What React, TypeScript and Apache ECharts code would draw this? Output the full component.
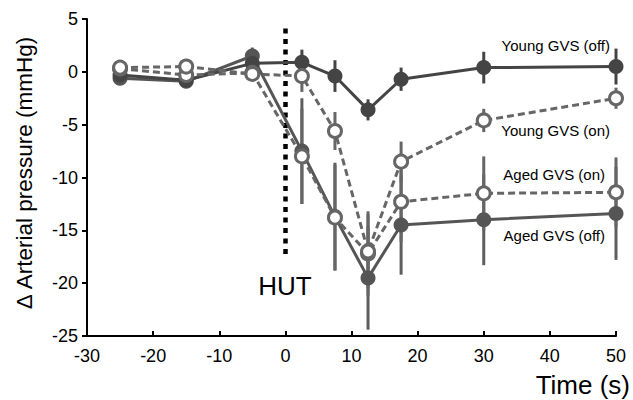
import React, { useEffect, useRef } from "react";
import * as echarts from "echarts";

const timePoints = [-25, -15, -5, 2.5, 7.5, 12.5, 17.5, 30, 50];
const youngOff = [-0.3, -0.8, 0.8, 0.9, -0.4, -3.6, -0.7, 0.4, 0.5];
const youngOffErr = [0.3, 0.3, 0.5, 1.2, 1.5, 1.0, 1.1, 1.5, 1.7];
const youngOn = [0.4, 0.5, -0.2, -0.4, -5.6, -17.0, -8.5, -4.6, -2.5];
const youngOnErr = [0.3, 0.4, 0.5, 1.5, 1.8, 3.5, 1.9, 1.1, 1.0];
const agedOn = [0.3, -0.3, -0.1, -8.0, -13.8, -17.2, -12.3, -11.5, -11.4];
const agedOnErr = [0.3, 0.4, 0.5, 4.5, 5.0, 4.0, 3.8, 3.5, 3.3];
const agedOff = [-0.6, -0.9, 1.5, -7.5, -13.7, -19.5, -14.5, -14.0, -13.4];
const agedOffErr = [0.3, 0.4, 0.8, 5.0, 5.1, 4.9, 4.7, 4.3, 4.4];

const xTicks = { min: -30, max: 50, interval: 10 };
const yTicks = { min: -25, max: 5, interval: 5 };
const hut = { x: 0, top: 4.1, bottom: -17.5 };

const FONT = "'Liberation Sans', Arial, sans-serif";

function pairs(vals: number[]) {
  return timePoints.map((t, i) => [t, vals[i]]);
}
function errData(vals: number[], errs: number[]) {
  return timePoints.map((t, i) => [t, vals[i] - errs[i], vals[i] + errs[i]]);
}

function errSeries(vals: number[], errs: number[], color: string) {
  return {
    type: "custom",
    z: 1,
    silent: true,
    data: errData(vals, errs),
    encode: { x: 0, y: [1, 2] },
    renderItem: (params: any, api: any) => {
      const x = api.value(0);
      const p1 = api.coord([x, api.value(1)]);
      const p2 = api.coord([x, api.value(2)]);
      return {
        type: "line",
        shape: { x1: p1[0], y1: p1[1], x2: p2[0], y2: p2[1] },
        style: { stroke: color, lineWidth: 3 },
      };
    },
  };
}

function lineSeries(name: string, vals: number[], color: string, open: boolean, extra: any = {}) {
  return {
    name,
    type: "line",
    z: 3,
    data: pairs(vals),
    symbol: "circle",
    symbolSize: open ? 13 : 15,
    showAllSymbol: true,
    lineStyle: { color, width: 3, type: open ? [7, 4] : "solid" },
    itemStyle: open
      ? { color: "#ffffff", borderColor: color, borderWidth: 3 }
      : { color, borderWidth: 0 },
    ...extra,
  };
}

export default function App() {
  const ref = useRef<HTMLDivElement>(null);
  useEffect(() => {
    document.body.style.margin = "0";
    if (!ref.current) return;
    const chart = echarts.init(ref.current, undefined, { renderer: "svg" });
    chart.setOption({
      animation: false,
      backgroundColor: "#ffffff",
      textStyle: { fontFamily: FONT },
      grid: { left: 87, right: 17, top: 19, bottom: 64 },
      xAxis: {
        type: "value",
        min: xTicks.min,
        max: xTicks.max,
        interval: xTicks.interval,
        axisLine: { onZero: false, lineStyle: { color: "#000", width: 2 } },
        axisTick: { inside: true, length: 5, lineStyle: { color: "#000", width: 2 } },
        axisLabel: { color: "#000", fontSize: 18, margin: 11, fontFamily: FONT },
        splitLine: { show: false },
      },
      yAxis: {
        type: "value",
        min: yTicks.min,
        max: yTicks.max,
        interval: yTicks.interval,
        axisLine: { show: true, onZero: false, lineStyle: { color: "#000", width: 2 } },
        axisTick: { show: true, inside: false, length: 5, lineStyle: { color: "#000", width: 2 } },
        axisLabel: { color: "#000", fontSize: 18, margin: 9, fontFamily: FONT },
        splitLine: { show: false },
      },
      series: [
        errSeries(agedOff, agedOffErr, "#5e5e5e"),
        errSeries(agedOn, agedOnErr, "#666666"),
        errSeries(youngOn, youngOnErr, "#666666"),
        errSeries(youngOff, youngOffErr, "#444444"),
        lineSeries("Aged GVS (off)", agedOff, "#555555", false, {
          markLine: {
            silent: true,
            z: 2,
            symbol: ["none", "none"],
            label: { show: false },
            lineStyle: { color: "#000", width: 4.5, type: [5, 5.5], cap: "butt" },
            data: [[{ coord: [hut.x, hut.top] }, { coord: [hut.x, hut.bottom] }]],
          },
        }),
        lineSeries("Young GVS (off)", youngOff, "#444444", false),
        lineSeries("Aged GVS (on)", agedOn, "#666666", true),
        lineSeries("Young GVS (on)", youngOn, "#666666", true),
      ],
      graphic: [
        { type: "text", x: 610, y: 45, style: { text: "Young GVS (off)", font: `15px ${FONT}`, fill: "#000", textAlign: "right", textVerticalAlign: "middle" } },
        { type: "text", x: 610, y: 130, style: { text: "Young GVS (on)", font: `15px ${FONT}`, fill: "#000", textAlign: "right", textVerticalAlign: "middle" } },
        { type: "text", x: 605, y: 174, style: { text: "Aged GVS (on)", font: `15px ${FONT}`, fill: "#000", textAlign: "right", textVerticalAlign: "middle" } },
        { type: "text", x: 605, y: 235, style: { text: "Aged GVS (off)", font: `15px ${FONT}`, fill: "#000", textAlign: "right", textVerticalAlign: "middle" } },
        { type: "text", x: 285, y: 286, style: { text: "HUT", font: `26px ${FONT}`, fill: "#000", textAlign: "center", textVerticalAlign: "middle" } },
        { type: "text", x: 630, y: 385, style: { text: "Time (s)", font: `26px ${FONT}`, fill: "#000", textAlign: "right", textVerticalAlign: "middle" } },
        {
          type: "text",
          x: 24,
          y: 173,
          rotation: Math.PI / 2,
          style: { text: "Δ Arterial pressure (mmHg)", font: `22.5px ${FONT}`, fill: "#000", textAlign: "center", textVerticalAlign: "middle" },
        },
      ],
    });
    return () => chart.dispose();
  }, []);
  return <div ref={ref} style={{ width: 633, height: 400, position: "absolute", left: 0, top: 0 }} />;
}
